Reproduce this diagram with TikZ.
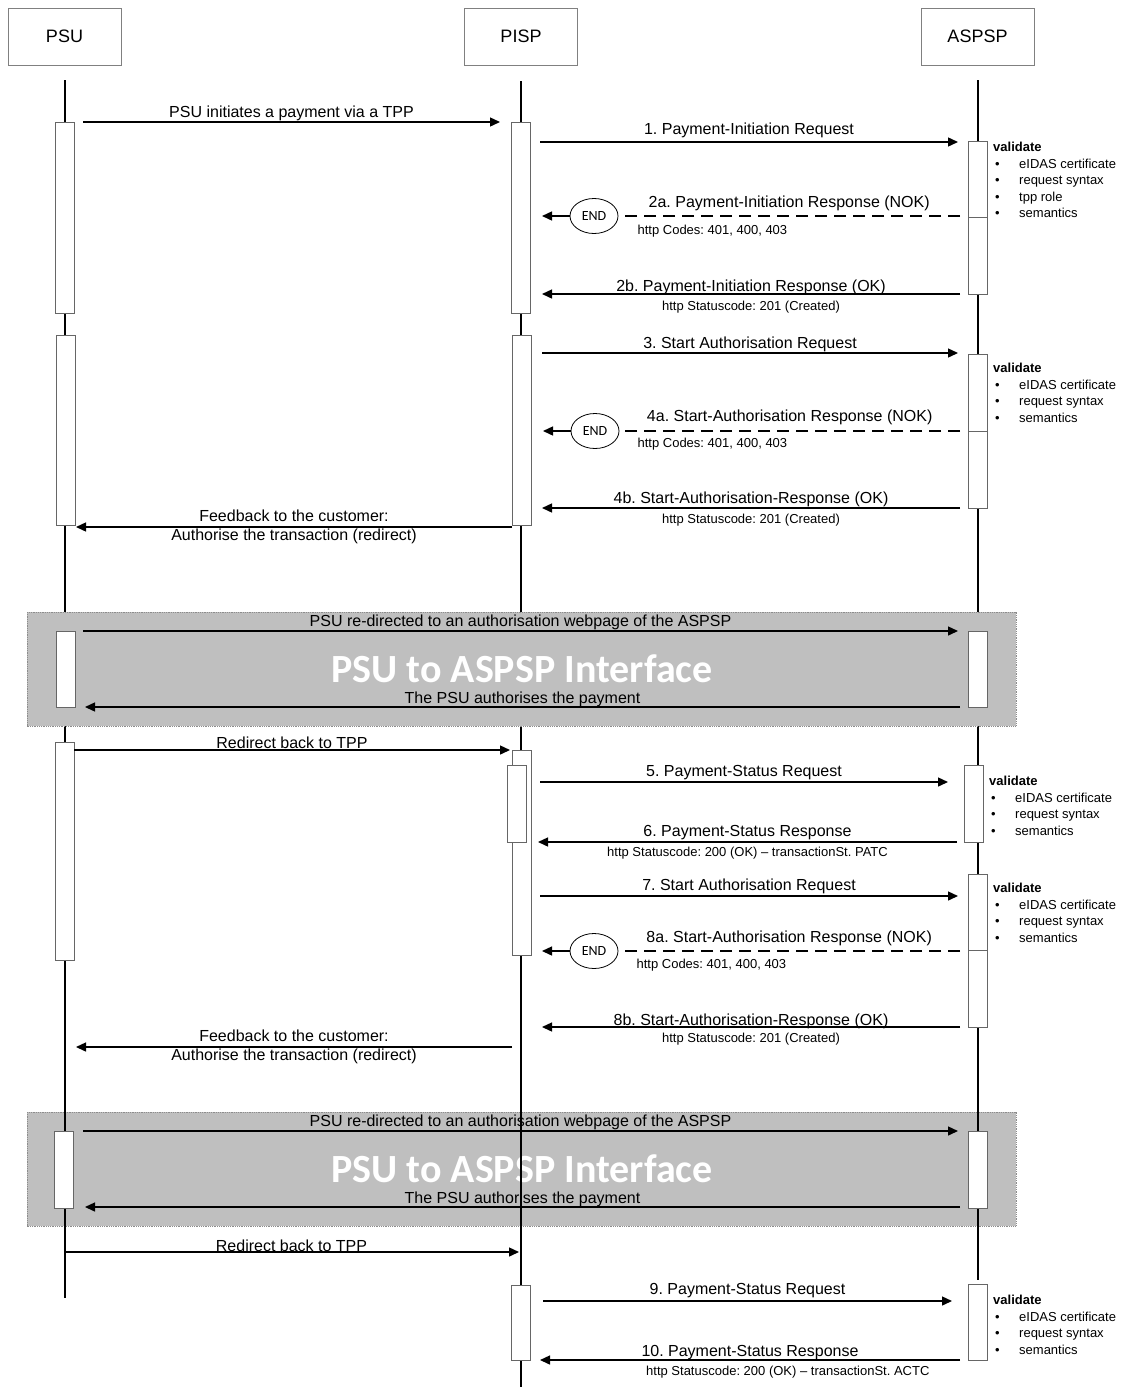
\documentclass[tikz,border=0pt]{standalone}
\usepackage{fontspec}
\setmainfont{Liberation Sans}
\newfontfamily\calfont{Carlito}
\usetikzlibrary{arrows.meta,shapes.geometric,positioning}
\frenchspacing

\newcommand{\bul}{\makebox[26pt][l]{\hspace{2pt}\textbullet}}

\tikzset{
  head/.style={draw=black!50, line width=0.8pt, minimum width=113pt, minimum height=57pt, inner sep=0pt, font=\fontsize{18}{20}\selectfont},
  life/.style={line width=2pt},
  bar/.style={draw=black!60, fill=white, line width=0.8pt, minimum width=19pt, inner sep=0pt},
  msg/.style={line width=1.4pt, -{Triangle[length=10pt,width=9pt]}},
  nok/.style={line width=1.4pt, dash pattern=on 12pt off 7pt},
  lbl/.style={font=\fontsize{16}{19}\selectfont, inner sep=0pt},
  small/.style={font=\fontsize{13}{15}\selectfont, inner sep=0pt},
  endmark/.style={ellipse, draw, line width=0.8pt, minimum width=48pt, minimum height=35pt, inner sep=0pt, font=\calfont\fontsize{14}{16}\selectfont},
  band/.style={fill=black!25, draw=black!45, densely dotted, line width=0.8pt},
  big/.style={text=white, inner sep=0pt, font=\calfont\bfseries\fontsize{40}{44}\selectfont},
  check/.style={anchor=north west, align=left, inner sep=0pt, font=\fontsize{13}{16.5}\selectfont}
}

\begin{document}
\begin{tikzpicture}[x=1pt,y=-1pt]
  \useasboundingbox (0,0) rectangle (1124,1387);

  % heads
  \node[head] (psu) at (64.5,36.5) {PSU};
  \node[head] (pisp) at (521,36.5) {PISP};
  \node[head] (aspsp) at (977.5,36.5) {ASPSP};

  % second interface band, lies under the lifelines
  \draw[band] (27,1112) rectangle (1016,1226);
  \node[big] (iface2) at (522,1169) {PSU to ASPSP Interface};

  % lifelines
  \coordinate (psuend) at (64.5,1298);
  \coordinate (pispend) at (521,1387);
  \coordinate (aspspend) at (977.5,1280);
  \draw[life] (psu.south) ++(0,15) -- (psuend);
  \draw[life] (pisp.south) ++(0,16) -- (pispend);
  \draw[life] (aspsp.south) ++(0,15) -- (aspspend);

  % first interface band, covers the lifelines
  \draw[band] (27,612) rectangle (1016,726);
  \node[big] (iface1) at (522,669) {PSU to ASPSP Interface};

  % activation bars
  \node[bar, minimum height=191pt] (a1) at (65,217.5) {};
  \node[bar, minimum height=190pt] (a2) at (66,430) {};
  \node[bar, minimum height=76pt] (a3) at (65.5,669) {};
  \node[bar, minimum height=218pt] (a4) at (64.5,851) {};
  \node[bar, minimum height=77pt] (a5) at (64,1169.5) {};

  \node[bar, minimum height=191pt] (b1) at (521,217.5) {};
  \node[bar, minimum height=190pt] (b2) at (521.5,430) {};
  \node[bar, minimum height=205pt] (b3) at (521.5,852.5) {};
  \node[bar, minimum height=77pt] (b3i) at (517,803.5) {};
  \node[bar, minimum height=75pt] (b4) at (521,1322.5) {};

  \node[bar, minimum height=153pt] (c1) at (978,217.5) {};
  \draw[draw=black!60, line width=0.8pt] (c1.west) -- (c1.east);
  \node[bar, minimum height=154pt] (c2) at (978,431) {};
  \draw[draw=black!60, line width=0.8pt] (c2.west) -- (c2.east);
  \node[bar, minimum height=76pt] (c3) at (977.5,669) {};
  \node[bar, minimum height=77pt] (c4) at (974,803.5) {};
  \node[bar, minimum height=153pt] (c5) at (978,950.5) {};
  \draw[draw=black!60, line width=0.8pt] (c5.west) -- (c5.east);
  \node[bar, minimum height=77pt] (c6) at (977.5,1169.5) {};
  \node[bar, minimum height=76pt] (c7) at (978,1322) {};

  % end marks
  \node[endmark] (e1) at (594,216) {END};
  \node[endmark] (e2) at (595,431) {END};
  \node[endmark] (e3) at (594,951) {END};

  % message end points
  \coordinate (m0s) at (83,122);   \coordinate (m0e) at (500,122);
  \coordinate (m1s) at (540,142);  \coordinate (m1e) at (958,142);
  \coordinate (m2as) at (960,216); \coordinate (m2ae) at (542,216);
  \coordinate (m2bs) at (960,294); \coordinate (m2be) at (542,294);
  \coordinate (m3s) at (542,353);  \coordinate (m3e) at (958,353);
  \coordinate (m4as) at (960,431); \coordinate (m4ae) at (543,431);
  \coordinate (m4bs) at (960,508); \coordinate (m4be) at (542,508);
  \coordinate (fb1s) at (512,527); \coordinate (fb1e) at (76,527);
  \coordinate (rd1s) at (83,631);  \coordinate (rd1e) at (958,631);
  \coordinate (au1s) at (960,707); \coordinate (au1e) at (85,707);
  \coordinate (bk1s) at (74,750);  \coordinate (bk1e) at (510,750);
  \coordinate (m5s) at (540,782);  \coordinate (m5e) at (948,782);
  \coordinate (m6s) at (957,842);  \coordinate (m6e) at (538,842);
  \coordinate (m7s) at (540,896);  \coordinate (m7e) at (958,896);
  \coordinate (m8as) at (960,951); \coordinate (m8ae) at (542,951);
  \coordinate (m8bs) at (960,1027); \coordinate (m8be) at (542,1027);
  \coordinate (fb2s) at (512,1047); \coordinate (fb2e) at (76,1047);
  \coordinate (rd2s) at (83,1131); \coordinate (rd2e) at (958,1131);
  \coordinate (au2s) at (960,1207); \coordinate (au2e) at (85,1207);
  \coordinate (bk2s) at (64,1252); \coordinate (bk2e) at (519,1252);
  \coordinate (m9s) at (543,1301); \coordinate (m9e) at (952,1301);
  \coordinate (m10s) at (960,1360); \coordinate (m10e) at (540,1360);

  % messages
  \draw[msg] (m0s) -- node[lbl, above=0pt] {PSU initiates a payment via a TPP} (m0e);
  \draw[msg] (m1s) -- node[lbl, above=3pt] {1. Payment-Initiation Request} (m1e);
  \draw[nok] (m2as) -- node[lbl, above=4pt] {2a. Payment-Initiation Response (NOK)} (e1);
  \draw[msg] (e1) -- (m2ae);
  \node[small, anchor=west] (codes1) at ([xshift=19pt,yshift=-15pt]e1.east) {http Codes: 401, 400, 403};
  \draw[msg] (m2bs) -- node[lbl, above=-2pt] {2b. Payment-Initiation Response (OK)}
    node[small, below=6pt] {http Statuscode: 201 (Created)} (m2be);

  \draw[msg] (m3s) -- node[lbl, above=0pt] {3. Start Authorisation Request} (m3e);
  \draw[nok] (m4as) -- node[lbl, above=5pt] {4a. Start-Authorisation Response (NOK)} (e2);
  \draw[msg] (e2) -- (m4ae);
  \node[small, anchor=west] (codes2) at ([xshift=18pt,yshift=-13pt]e2.east) {http Codes: 401, 400, 403};
  \draw[msg] (m4bs) -- node[lbl, above=0pt] {4b. Start-Authorisation-Response (OK)}
    node[small, below=5pt] {http Statuscode: 201 (Created)} (m4be);
  \draw[msg] (fb1s) -- node[lbl, align=center] {Feedback to the customer:\\Authorise the transaction (redirect)} (fb1e);

  \draw[msg] (rd1s) -- node[lbl, above=0pt] {PSU re-directed to an authorisation webpage of the ASPSP} (rd1e);
  \draw[msg] (au1s) -- node[lbl, above=-1pt] {The PSU authorises the payment} (au1e);
  \draw[msg] (bk1s) -- node[lbl, above=1pt] {Redirect back to TPP} (bk1e);

  \draw[msg] (m5s) -- node[lbl, above=1pt] {5. Payment-Status Request} (m5e);
  \draw[msg] (m6s) -- node[lbl, above=1pt] {6. Payment-Status Response}
    node[small, below=4pt] {http Statuscode: 200 (OK) – transactionSt. PATC} (m6e);
  \draw[msg] (m7s) -- node[lbl, above=1pt] {7. Start Authorisation Request} (m7e);
  \draw[nok] (m8as) -- node[lbl, above=4pt] {8a. Start-Authorisation Response (NOK)} (e3);
  \draw[msg] (e3) -- (m8ae);
  \node[small, anchor=west] (codes3) at ([xshift=18pt,yshift=-14pt]e3.east) {http Codes: 401, 400, 403};
  \draw[msg] (m8bs) -- node[lbl, above=-3pt] {8b. Start-Authorisation-Response (OK)}
    node[small, below=5pt] {http Statuscode: 201 (Created)} (m8be);
  \draw[msg] (fb2s) -- node[lbl, align=center] {Feedback to the customer:\\Authorise the transaction (redirect)} (fb2e);

  \draw[msg] (rd2s) -- node[lbl, above=0pt] {PSU re-directed to an authorisation webpage of the ASPSP} (rd2e);
  \draw[msg] (au2s) -- node[lbl, above=-1pt] {The PSU authorises the payment} (au2e);
  \draw[msg] (bk2s) -- node[lbl, above=0pt] {Redirect back to TPP} (bk2e);

  \draw[msg] (m9s) -- node[lbl, above=2pt] {9. Payment-Status Request} (m9e);
  \draw[msg] (m10s) -- node[lbl, above=-1pt] {10. Payment-Status Response}
    node[small, below=5pt, pos=0.41] {http Statuscode: 200 (OK) – transactionSt. ACTC} (m10e);

  % validation notes
  \node[check] (val1) at (993,142) {\textbf{validate}\\ \bul eIDAS certificate\\ \bul request syntax\\ \bul tpp role\\ \bul semantics};
  \node[check] (val2) at (993,363) {\textbf{validate}\\ \bul eIDAS certificate\\ \bul request syntax\\ \bul semantics};
  \node[check] (val3) at (989,776) {\textbf{validate}\\ \bul eIDAS certificate\\ \bul request syntax\\ \bul semantics};
  \node[check] (val4) at (993,883) {\textbf{validate}\\ \bul eIDAS certificate\\ \bul request syntax\\ \bul semantics};
  \node[check] (val5) at (993,1295) {\textbf{validate}\\ \bul eIDAS certificate\\ \bul request syntax\\ \bul semantics};
\end{tikzpicture}
\end{document}
